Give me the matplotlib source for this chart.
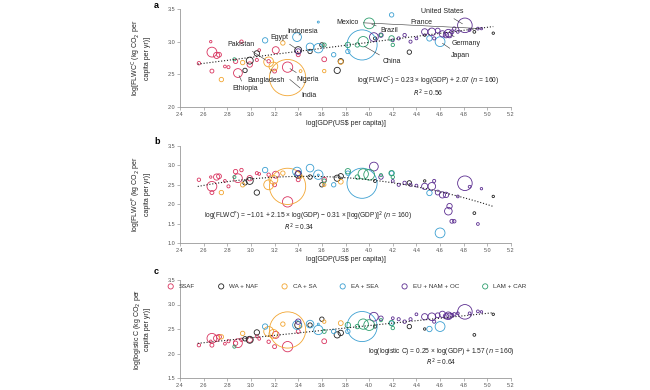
import numpy as np
import matplotlib
matplotlib.use("Agg")
import matplotlib.pyplot as plt

plt.rcParams['font.family'] = ['Liberation Sans', 'DejaVu Sans']

# region names + colours (legend order)
regions = ['SSAF', 'WA + NAF', 'CA + SA', 'EA + SEA', 'EU + NAM + OC', 'LAM + CAR']
region_colors = ['#d9345f', '#222222', '#f2a531', '#3b9fd1', '#5b2d90', '#2e9e6e']

# one entry per country: region index, log GDP, marker area, y in panel a / b / c
country_region = [0]*20 + [1]*13 + [2]*9 + [3]*11 + [4]*23 + [5]*9
log_gdp = [
    2.56, 2.67, 2.71, 2.73, 2.67, 2.66, 2.81, 2.89, 2.92, 2.87, 3.07, 3.21, 3.31, 3.62, 3.40, 3.15, 2.99, 3.20, 2.78, 3.05,
    3.05, 2.95, 2.99, 3.40, 3.50, 3.73, 3.76, 4.34, 4.47, 4.89, 5.05, 3.60, 4.05,
    3.31, 3.19, 3.15, 2.75, 3.27, 3.62, 3.76, 2.93, 3.42,
    3.94, 3.39, 3.50, 3.57, 3.12, 4.60, 3.82, 4.19, 3.57, 4.51, 3.70,
    4.81, 4.53, 4.67, 4.04, 4.10, 4.25, 4.30, 4.35, 4.40, 4.47, 4.58, 4.62, 4.65, 4.70, 4.72, 4.75, 4.85, 4.92, 4.68, 3.40, 4.20, 4.55, 4.95,
    4.00, 3.95, 2.86, 3.82, 4.19, 4.20, 3.62, 4.10, 3.90,
]
marker_area = [
    6, 50, 20, 12, 8, 3, 5, 40, 6, 10, 4, 25, 55, 12, 8, 6, 15, 8, 4, 5,
    15, 10, 25, 25, 10, 20, 15, 10, 3, 4, 3, 10, 5,
    680, 40, 50, 10, 10, 6, 12, 10, 4,
    470, 40, 30, 45, 15, 50, 10, 10, 2, 15, 10,
    110, 30, 30, 40, 10, 5, 6, 5, 4, 20, 12, 20, 15, 8, 6, 4, 4, 4, 15, 15, 4, 5, 3,
    60, 55, 5, 15, 15, 6, 8, 5, 10,
]
flwc_c = [
    2.67, 2.84, 2.79, 2.80, 2.55, 3.00, 2.61, 2.52, 3.00, 2.70, 2.87, 2.87, 2.61, 2.73, 2.80, 2.70, 2.65, 2.55, 2.62, 2.72,
    2.82, 2.56, 2.71, 2.87, 2.85, 2.56, 2.70, 2.84, 3.10, 3.15, 3.13, 2.95, 3.05,
    2.45, 2.62, 2.69, 2.42, 2.98, 2.55, 2.69, 2.68, 2.55,
    2.95, 3.07, 2.92, 2.90, 3.02, 3.00, 2.85, 3.41, 3.30, 3.05, 2.80,
    3.25, 3.15, 3.13, 3.07, 3.10, 3.05, 3.10, 3.00, 3.05, 3.15, 3.17, 3.12, 3.10, 3.15, 3.20, 3.15, 3.18, 3.20, 3.10, 2.85, 3.02, 3.05, 3.20,
    3.28, 3.00, 2.73, 2.95, 3.05, 2.95, 2.95, 3.10, 2.95,
]
flwc_f = [
    2.63, 2.46, 2.70, 2.72, 2.30, 2.70, 2.46, 2.67, 2.88, 2.84, 2.78, 2.76, 2.06, 2.63, 2.63, 2.76, 2.67, 2.50, 2.60, 2.80,
    2.30, 2.55, 2.60, 2.76, 2.70, 2.67, 2.72, 2.55, 2.60, 1.77, 2.20, 2.50, 2.60,
    2.46, 2.63, 2.50, 2.30, 2.80, 2.50, 2.58, 2.50, 2.70,
    2.54, 2.84, 2.93, 2.76, 2.88, 1.26, 2.80, 2.80, 2.75, 2.29, 2.50,
    2.54, 2.46, 1.82, 2.97, 2.70, 2.50, 2.55, 2.50, 2.48, 2.46, 2.30, 2.24, 2.24, 1.56, 1.56, 2.20, 2.45, 1.49, 1.95, 2.80, 2.60, 2.60, 2.40,
    2.76, 2.78, 2.70, 2.85, 2.80, 2.70, 2.60, 2.75, 2.70,
]
logistic_c = [
    2.17, 2.31, 2.31, 2.34, 2.17, 2.25, 2.25, 2.21, 2.28, 2.21, 2.30, 2.38, 2.14, 2.25, 2.45, 2.24, 2.28, 2.14, 2.20, 2.35,
    2.43, 2.30, 2.28, 2.58, 2.58, 2.38, 2.42, 2.55, 2.50, 2.38, 2.80, 2.70, 2.55,
    2.48, 2.40, 2.45, 2.34, 2.60, 2.65, 2.62, 2.41, 2.55,
    2.55, 2.58, 2.60, 2.48, 2.55, 2.55, 2.45, 2.62, 2.60, 2.50, 2.45,
    2.85, 2.75, 2.77, 2.75, 2.72, 2.70, 2.65, 2.70, 2.80, 2.75, 2.78, 2.80, 2.76, 2.78, 2.80, 2.82, 2.82, 2.86, 2.77, 2.65, 2.72, 2.65, 2.85,
    2.58, 2.60, 2.14, 2.58, 2.62, 2.52, 2.45, 2.68, 2.55,
]

# fitted equations printed on the panels
fit_a = [0.23, 2.07]            # slope, intercept
fit_b = [-0.31, 2.15, -1.01]    # quadratic
fit_c = [0.25, 1.57]
fit_range = [2.55, 5.05]

# labelled countries in panel a: name, index, text position
labels_a = [
    ('Pakistan', 35, 2.92, 2.96), ('Egypt', 23, 3.24, 3.07), ('Indonesia', 43, 3.44, 3.16),
    ('Bangladesh', 34, 3.13, 2.40), ('Ethiopia', 7, 2.95, 2.28), ('Nigeria', 12, 3.48, 2.42),
    ('India', 33, 3.49, 2.18), ('Mexico', 75, 3.82, 3.30), ('Brazil', 76, 4.17, 3.17),
    ('China', 42, 4.19, 2.69), ('France', 54, 4.44, 3.30), ('United States', 53, 4.62, 3.46),
    ('Germany', 55, 4.82, 2.97), ('Japan', 47, 4.77, 2.79),
]

fig = plt.figure(figsize=(6.5, 3.9), dpi=100)
L, W = 180/650, 331/650
ax_a = fig.add_axes([L, 1-107/390, W, 98/390])
ax_b = fig.add_axes([L, 1-243/390, W, 97/390])
ax_c = fig.add_axes([L, 1-378/390, W, 98/390])

gdp = np.array(log_gdp)
reg = np.array(country_region)
size = np.array(marker_area)
xf = np.linspace(fit_range[0], fit_range[1], 100)

def draw(ax, yvals, ylim, yticks):
    yvals = np.array(yvals)
    for k, col in enumerate(region_colors):
        m = reg == k
        ax.scatter(gdp[m], yvals[m], s=size[m], facecolors='none', edgecolors=col,
                   linewidths=0.6, label=regions[k], zorder=2)
    ax.set_xlim(2.4, 5.2)
    ax.set_ylim(*ylim)
    ax.set_xticks(np.arange(2.4, 5.21, 0.2))
    ax.set_yticks(yticks)
    ax.xaxis.set_major_formatter(matplotlib.ticker.FormatStrFormatter('%.1f'))
    ax.yaxis.set_major_formatter(matplotlib.ticker.FormatStrFormatter('%.1f'))
    for s in ['top', 'right']:
        ax.spines[s].set_visible(False)
    for s in ['left', 'bottom']:
        ax.spines[s].set_color('#999999')
        ax.spines[s].set_linewidth(0.6)
    ax.tick_params(labelsize=4, length=2, width=0.5, color='#999999', labelcolor='#555555', pad=1.5)

draw(ax_a, flwc_c, (2.0, 3.5), [2.0, 2.5, 3.0, 3.5])
draw(ax_b, flwc_f, (1.0, 3.5), [1.0, 1.5, 2.0, 2.5, 3.0, 3.5])
draw(ax_c, logistic_c, (1.5, 3.5), [1.5, 2.0, 2.5, 3.0, 3.5])

ax_a.plot(xf, np.polyval(fit_a, xf), ':', color='#222222', lw=0.8, zorder=3)
ax_b.plot(xf, np.polyval(fit_b, xf), ':', color='#222222', lw=0.8, zorder=3)
ax_c.plot(xf, np.polyval(fit_c, xf), ':', color='#222222', lw=0.8, zorder=3)

for name, i, tx, ty in labels_a:
    ax_a.annotate(name, xy=(log_gdp[i], flwc_c[i]), xytext=(tx, ty), fontsize=5,
                  ha='center', va='center', color='#222222',
                  arrowprops=dict(arrowstyle='-', color='#333333', lw=0.4, shrinkA=1, shrinkB=2))

eq = dict(fontsize=4.8, color='#222222')
ax_a.text(4.5, 2.39, r'log(FLWC$^{\mathrm{C}}$) = 0.23 × log(GDP) + 2.07 ($n$ = 160)', ha='center', va='center', **eq)
ax_a.text(4.5, 2.21, r'$R^2$ = 0.56', ha='center', va='center', **eq)
ax_b.text(2.6, 1.69, r'log(FLWC$^{\mathrm{F}}$) = −1.01 + 2.15 × log(GDP) − 0.31 × [log(GDP)]$^2$ ($n$ = 160)', ha='left', va='center', **eq)
ax_b.text(3.41, 1.41, r'$R^2$ = 0.34', ha='center', va='center', **eq)
ax_c.text(4.61, 2.04, r'log(logistic C) = 0.25 × log(GDP) + 1.57 ($n$ = 160)', ha='center', va='center', **eq)
ax_c.text(4.61, 1.82, r'$R^2$ = 0.64', ha='center', va='center', **eq)

for ax in (ax_a, ax_b):
    ax.set_xlabel('log[GDP(US$ per capita)]', fontsize=5, labelpad=2, color='#222222')

ylab = dict(fontsize=5, color='#222222', labelpad=12, linespacing=1.1)
ax_a.set_ylabel('log[FLWC$^{\\mathrm{C}}$ (kg CO$_2$ per\ncapita per yr)]', **ylab)
ax_b.set_ylabel('log[FLWC$^{\\mathrm{F}}$ (kg CO$_2$ per\ncapita per yr)]', **ylab)
ax_c.set_ylabel('log[logistic C (kg CO$_2$ per\ncapita per yr)]', **ylab)

for ax, letter, ypx in ((ax_a, 'a', 5), (ax_b, 'b', 141), (ax_c, 'c', 271)):
    fig.text(154/650, 1-ypx/390, letter, fontsize=6.5, fontweight='bold', ha='left', va='center')

leg = ax_c.legend(loc='upper center', bbox_to_anchor=(0.5, 1.02), ncol=6, frameon=False,
                  fontsize=4.5, handletextpad=0.3, columnspacing=3.2, markerscale=1)
for h, col in zip(leg.legend_handles, region_colors):
    h.set_sizes([14])
for t in leg.get_texts():
    t.set_color('#333333')

fig.savefig('out.png', dpi=100)
